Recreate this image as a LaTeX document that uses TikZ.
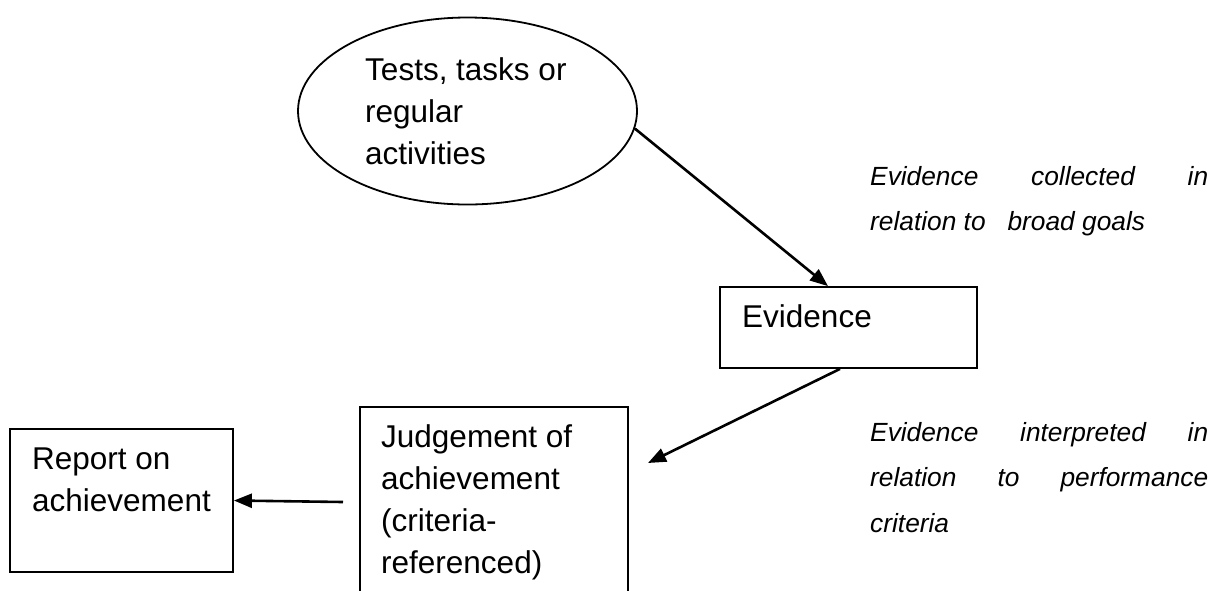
\documentclass[tikz,border=0pt]{standalone}
\usepackage{fontspec}
\setmainfont{Liberation Sans}
\usetikzlibrary{shapes.geometric,arrows.meta}

\begin{document}
\begin{tikzpicture}[x=1pt,y=-1pt,
	box/.style={draw,line width=1.8pt,inner sep=0pt},
	boxtext/.style={anchor=north west,inner sep=0pt,align=left,font=\fontsize{31.5}{42}\selectfont},
	note/.style={anchor=north west,inner sep=0pt,text width=338pt,align=justify,font=\fontsize{26.3}{45.5}\selectfont\itshape},
	arr/.style={line width=2.6pt,-{Triangle[length=18pt,width=14pt]}}]
	\clip (0,0) rectangle (1220,590);
	
	\node[box,ellipse,minimum width=339pt,minimum height=187pt] (tests) at (467.5,111) {};
	\node[boxtext] (teststext) at (365,57.4) {Tests, tasks or\\regular\\activities};
	
	\node[box,minimum width=257pt,minimum height=81pt] (evid) at (848.5,327.5) {};
	\node[boxtext] (evidtext) at (742,304.4) {Evidence};
	
	\node[box,minimum width=268pt,minimum height=193pt] (judge) at (494,503.5) {};
	\node[boxtext] (judgetext) at (381,424.1) {Judgement of\\achievement\\(criteria-\\referenced)};
	
	\node[box,minimum width=223pt,minimum height=143pt] (report) at (121.5,500.5) {};
	\node[boxtext] (reporttext) at (32,447.4) {Report on\\achievement};
	
	% remarks on the right
	\node[note] (collected) at (870,166.2) {Evidence collected in\linebreak relation to\ \ \ broad goals};
	\node[note] (interpreted) at (870,422.2) {Evidence interpreted in\linebreak relation to performance\linebreak criteria};
	
	\coordinate (judgetip) at (648,463);
	\coordinate (repstart) at (343,502);
	
	\draw[arr] (tests.-6) -- ([xshift=-20.5pt]evid.north);
	\draw[arr] ([xshift=-8.5pt]evid.south) -- (judgetip);
	\draw[arr] (repstart) -- (report.east);
\end{tikzpicture}
\end{document}
